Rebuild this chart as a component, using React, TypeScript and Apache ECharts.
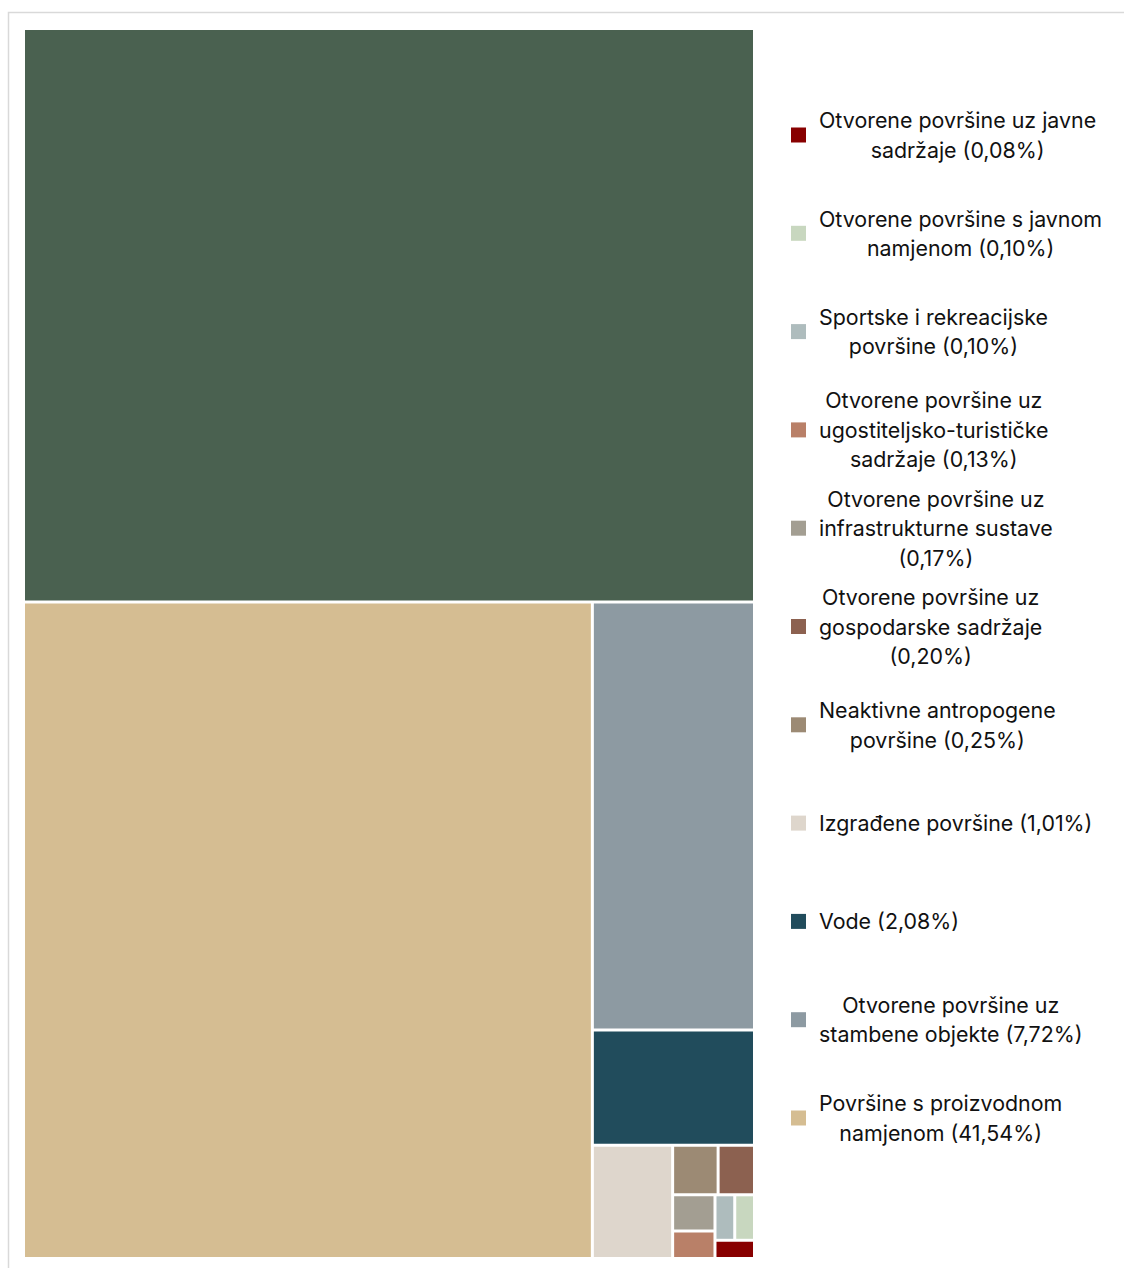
import React, { useEffect, useRef } from "react";
import * as echarts from "echarts";

// Categories (largest first); the first, largest block has no legend entry in the reference
const categories = [
  "Ostale površine",
  "Površine s proizvodnom namjenom",
  "Otvorene površine uz stambene objekte",
  "Vode",
  "Izgrađene površine",
  "Neaktivne antropogene površine",
  "Otvorene površine uz gospodarske sadržaje",
  "Otvorene površine uz infrastrukturne sustave",
  "Otvorene površine uz ugostiteljsko-turističke sadržaje",
  "Otvorene površine s javnom namjenom",
  "Sportske i rekreacijske površine",
  "Otvorene površine uz javne sadržaje",
];

// Shares in %
const values = [46.62, 41.54, 7.72, 2.08, 1.01, 0.25, 0.2, 0.17, 0.13, 0.1, 0.1, 0.08];

const colors = [
  "#4a6150",
  "#d5bd92",
  "#8d9aa2",
  "#214c5c",
  "#ded6cc",
  "#9c8a74",
  "#8c6150",
  "#a39e92",
  "#b98068",
  "#c8d7bf",
  "#aebcbd",
  "#880000",
];

// Legend: order of entries (indices into categories) and their wrapped labels
const legendOrder = [11, 9, 10, 8, 7, 6, 5, 4, 3, 2, 1];
const legendLabels = [
  "Otvorene površine uz javne\nsadržaje (0,08%)",
  "Otvorene površine s javnom\nnamjenom (0,10%)",
  "Sportske i rekreacijske\npovršine (0,10%)",
  "Otvorene površine uz\nugostiteljsko-turističke\nsadržaje (0,13%)",
  "Otvorene površine uz\ninfrastrukturne sustave\n(0,17%)",
  "Otvorene površine uz\ngospodarske sadržaje\n(0,20%)",
  "Neaktivne antropogene\npovršine (0,25%)",
  "Izgrađene površine (1,01%)",
  "Vode (2,08%)",
  "Otvorene površine uz\nstambene objekte (7,72%)",
  "Površine s proizvodnom\nnamjenom (41,54%)",
];

const FONT_FAMILY = "Inter";
const FONT_SIZE = 21.4;

function measure(text: string): number {
  const c = document.createElement("canvas");
  const ctx = c.getContext("2d");
  if (!ctx) return text.length * FONT_SIZE * 0.55;
  ctx.font = `${FONT_SIZE}px ${FONT_FAMILY}`;
  return Math.max(...text.split("\n").map((l) => ctx.measureText(l).width));
}

export default function App() {
  const ref = useRef<HTMLDivElement>(null);

  useEffect(() => {
    if (!ref.current) return;
    const chart = echarts.init(ref.current, undefined, { renderer: "svg" });

    const legendStartY = 135;
    const legendStep = 98.3;
    const markerX = 791;
    const textLeft = 819;

    const legendGraphics: any[] = [];
    legendOrder.forEach((idx, i) => {
      const cy = legendStartY + i * legendStep;
      legendGraphics.push({
        type: "rect",
        shape: { x: markerX, y: cy - 7.5, width: 15, height: 15 },
        style: { fill: colors[idx] },
        silent: true,
      });
      const w = measure(legendLabels[i]);
      legendGraphics.push({
        type: "text",
        x: textLeft + w / 2,
        y: cy,
        style: {
          text: legendLabels[i],
          fill: "#111111",
          font: `${FONT_SIZE}px ${FONT_FAMILY}`,
          fontFamily: FONT_FAMILY,
          fontSize: FONT_SIZE,
          align: "center",
          verticalAlign: "middle",
          lineHeight: 29.5,
        },
        silent: true,
      });
    });

    chart.setOption({
      animation: false,
      backgroundColor: "#ffffff",
      graphic: [
        {
          type: "rect",
          shape: { x: 8.5, y: 12.5, width: 1300, height: 1400 },
          style: { fill: "none", stroke: "#d9d9d9", lineWidth: 1.5 },
          silent: true,
          z: 0,
        },
        ...legendGraphics,
      ],
      series: [
        {
          type: "treemap",
          left: 25,
          top: 30,
          width: 728,
          height: 1227,
          roam: false,
          nodeClick: false,
          silent: true,
          breadcrumb: { show: false },
          squareRatio: 1.35,
          sort: "desc",
          label: { show: false },
          upperLabel: { show: false },
          emphasis: { disabled: true },
          itemStyle: { borderWidth: 0, gapWidth: 3, borderColor: "#ffffff" },
          levels: [{ itemStyle: { borderWidth: 0, gapWidth: 3 } }],
          data: categories.map((name, i) => ({
            name,
            value: values[i],
            itemStyle: { color: colors[i] },
          })),
        },
      ],
    });

    return () => chart.dispose();
  }, []);

  return (
    <div
      ref={ref}
      style={{ position: "absolute", left: 0, top: 0, width: 1124, height: 1268 }}
    />
  );
}
